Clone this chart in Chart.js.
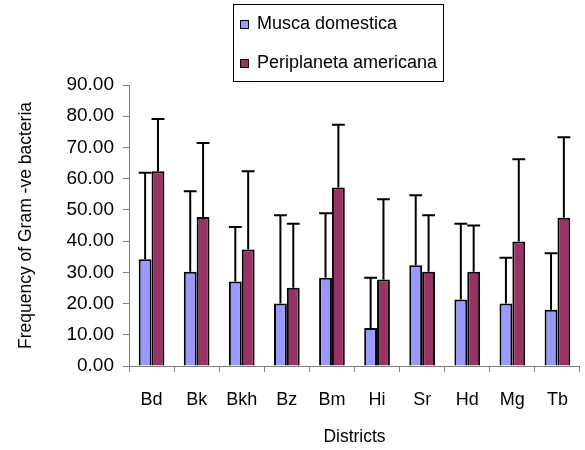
<!DOCTYPE html>
<html>
<head>
<meta charset="utf-8">
<script src="https://cdn.jsdelivr.net/npm/chart.js@4.4.0/dist/chart.umd.min.js"></script>
<style>
  html, body { margin: 0; padding: 0; background: #fff; }
  #wrap { width: 585px; height: 450px; }
</style>
</head>
<body>
<div id="wrap"><canvas id="chart" width="585" height="450"></canvas></div>
<script>
const districts = ['Bd', 'Bk', 'Bkh', 'Bz', 'Bm', 'Hi', 'Sr', 'Hd', 'Mg', 'Tb'];
const muscaMean = [34.2, 30.2, 27.1, 20.0, 28.3, 12.2, 32.3, 21.3, 20.0, 18.0];
const muscaSD = [27.7, 25.8, 17.4, 28.3, 20.6, 16.1, 22.4, 24.3, 14.7, 18.1];
const periMean = [62.4, 47.7, 37.3, 25.1, 57.2, 27.7, 30.2, 30.2, 39.9, 47.5];
const periSD = [16.7, 23.7, 25.1, 20.5, 20.1, 25.7, 18.1, 14.8, 26.3, 25.8];
const yTicks = [0, 10, 20, 30, 40, 50, 60, 70, 80, 90];

const FONT = "'Liberation Sans', Arial, sans-serif";

// upward-only error bars with caps
const errorBars = {
  id: 'errorBars',
  afterDatasetsDraw(chart) {
    const ctx = chart.ctx;
    const y = chart.scales.y;
    ctx.save();
    ctx.strokeStyle = '#000';
    ctx.lineWidth = 2;
    chart.data.datasets.forEach((ds, i) => {
      const meta = chart.getDatasetMeta(i);
      meta.data.forEach((bar, j) => {
        const top = y.getPixelForValue(ds.data[j] + ds.sd[j]);
        const half = bar.width / 2;
        ctx.beginPath();
        ctx.moveTo(bar.x, bar.y);
        ctx.lineTo(bar.x, top);
        ctx.moveTo(bar.x - half, top);
        ctx.lineTo(bar.x + half, top);
        ctx.stroke();
      });
    });
    ctx.restore();
  }
};

// boxed legend, two rows
const boxLegend = {
  id: 'boxLegend',
  afterDraw(chart) {
    const ctx = chart.ctx;
    ctx.save();
    ctx.strokeStyle = '#000';
    ctx.lineWidth = 1;
    ctx.fillStyle = '#fff';
    ctx.fillRect(233, 4, 210, 77);
    ctx.strokeRect(233.5, 4.5, 210, 77);
    ctx.font = '18px ' + FONT;
    ctx.textBaseline = 'middle';
    chart.data.datasets.forEach((ds, i) => {
      const cy = 24 + i * 39;
      ctx.fillStyle = ds.backgroundColor;
      ctx.fillRect(240, cy - 4, 8, 8);
      ctx.strokeRect(240.5, cy - 3.5, 8, 8);
      ctx.fillStyle = '#000';
      ctx.fillText(ds.label, 257, cy);
    });
    ctx.restore();
  }
};

new Chart(document.getElementById('chart'), {
  type: 'bar',
  data: {
    labels: districts,
    datasets: [{
      label: 'Musca domestica',
      data: muscaMean,
      sd: muscaSD,
      backgroundColor: '#9999FF',
      borderColor: '#000',
      borderWidth: 2,
      categoryPercentage: 0.57,
      barPercentage: 1.0
    }, {
      label: 'Periplaneta americana',
      data: periMean,
      sd: periSD,
      backgroundColor: '#993366',
      borderColor: '#000',
      borderWidth: 2,
      categoryPercentage: 0.57,
      barPercentage: 1.0
    }]
  },
  options: {
    responsive: false,
    animation: false,
    layout: { padding: { top: 85, right: 1, left: 0, bottom: 0 } },
    plugins: {
      legend: { display: false },
      tooltip: { enabled: false }
    },
    scales: {
      x: {
        grid: { display: true, drawOnChartArea: false, drawTicks: true, tickLength: 6, color: '#808080', offset: true },
        border: { color: '#808080', width: 1 },
        ticks: { color: '#000', font: { family: FONT, size: 18 }, padding: 17, maxRotation: 0 },
        title: { display: true, text: 'Districts', color: '#000', font: { family: FONT, size: 17.5 }, padding: { top: 16, bottom: 2 } },
        afterFit(scale) { scale.height = 84; }
      },
      y: {
        min: 0,
        max: 90,
        afterBuildTicks(scale) { scale.ticks = yTicks.map(v => ({ value: v })); },
        grid: { display: true, drawOnChartArea: false, drawTicks: true, tickLength: 6, color: '#808080' },
        border: { color: '#808080', width: 1 },
        ticks: { color: '#000', font: { family: FONT, size: 19 }, padding: 9, callback: v => v.toFixed(2) },
        title: { display: true, text: 'Frequency of Gram -ve bacteria', color: '#000', font: { family: FONT, size: 17.5 }, padding: { top: 16, bottom: 0 } },
        afterFit(scale) { scale.width = 129; }
      }
    }
  },
  plugins: [errorBars, boxLegend]
});
</script>
</body>
</html>
